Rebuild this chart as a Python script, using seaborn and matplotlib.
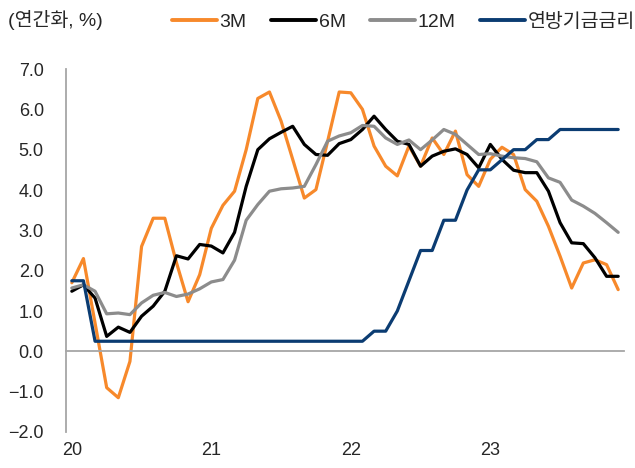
import numpy as np
import pandas as pd
import matplotlib
matplotlib.use("Agg")
import matplotlib.pyplot as plt
import seaborn as sns

# Monthly, Jan 2020 .. Dec 2023
months = pd.period_range("2020-01", "2023-12", freq="M").astype(str).tolist()

m3 = [1.7, 2.3, 0.7, -0.9, -1.15, -0.25, 2.6, 3.3, 3.3, 2.2, 1.23, 1.9,
      3.05, 3.62, 3.97, 5.0, 6.27, 6.43, 5.71, 4.76, 3.8, 4.01, 5.2, 6.43,
      6.41, 6.0, 5.09, 4.59, 4.35, 5.09, 4.59, 5.29, 4.88, 5.46, 4.38, 4.09,
      4.76, 5.06, 4.88, 4.01, 3.72, 3.1, 2.36, 1.57, 2.19, 2.27, 2.15, 1.53]
m6 = [1.49, 1.65, 1.32, 0.37, 0.6, 0.47, 0.87, 1.12, 1.49, 2.37, 2.29, 2.65,
      2.61, 2.44, 2.95, 4.09, 5.0, 5.27, 5.43, 5.58, 5.13, 4.88, 4.86, 5.15,
      5.25, 5.5, 5.83, 5.5, 5.21, 5.13, 4.59, 4.84, 4.96, 5.02, 4.88, 4.55,
      5.13, 4.76, 4.49, 4.43, 4.43, 3.97, 3.19, 2.69, 2.67, 2.32, 1.86, 1.86]
m12 = [1.57, 1.65, 1.49, 0.93, 0.95, 0.91, 1.2, 1.39, 1.46, 1.36, 1.42, 1.55,
       1.72, 1.78, 2.26, 3.25, 3.64, 3.97, 4.03, 4.05, 4.09, 4.63, 5.21, 5.34,
       5.42, 5.6, 5.58, 5.29, 5.13, 5.24, 5.0, 5.24, 5.5, 5.38, 5.13, 4.88,
       4.9, 4.84, 4.8, 4.78, 4.7, 4.3, 4.19, 3.75, 3.6, 3.42, 3.19, 2.95]
fed = [1.75, 1.75] + [0.25] * 24 + [0.5, 0.5, 1.0, 1.75, 2.5, 2.5, 3.25, 3.25,
       4.0, 4.5, 4.5, 4.75, 5.0, 5.0, 5.25, 5.25, 5.5, 5.5, 5.5, 5.5, 5.5, 5.5]

series_names = ["3M", "6M", "12M", "연방기금금리"]
series_colors = ["#F7892B", "#000000", "#8C8C8C", "#0B3C72"]
year_labels = ["20", "21", "22", "23"]
y_ticks = [-2.0, -1.0, 0.0, 1.0, 2.0, 3.0, 4.0, 5.0, 6.0, 7.0]

pos = np.arange(len(months)) + 0.5
frames = []
for name, vals in zip(series_names, [m3, m6, m12, fed]):
    frames.append(pd.DataFrame({"x": pos, "value": vals, "series": name}))
df = pd.concat(frames, ignore_index=True)

sns.set_style("white")
fam = ["Liberation Sans", "Noto Sans CJK KR", "DejaVu Sans"]
plt.rcParams["font.family"] = fam
plt.rcParams["axes.unicode_minus"] = True
fs = 13

fig = plt.figure(figsize=(6.35, 4.68), dpi=100)
ax = fig.add_axes([66 / 635, 1 - 432 / 468, (624 - 66) / 635, (432 - 69) / 468])

sns.lineplot(data=df, x="x", y="value", hue="series", hue_order=series_names,
             palette=dict(zip(series_names, series_colors)), linewidth=2.3,
             ax=ax, legend=False)

axis_col = "#A6A6A6"
ax.set_xlim(0, 48)
ax.set_ylim(-2.0, 7.0)
ax.set_yticks(y_ticks)
ax.set_yticklabels([f"{v:.1f}".replace("-", "\u2212") for v in y_ticks], fontsize=fs)
for s in ["top", "right"]:
    ax.spines[s].set_visible(False)
ax.spines["left"].set_color(axis_col)
ax.spines["left"].set_linewidth(1.3)
ax.spines["bottom"].set_position(("data", 0))
ax.spines["bottom"].set_color(axis_col)
ax.spines["bottom"].set_linewidth(1.3)

ax.set_xticks([0, 12, 24, 36, 48])
ax.set_xticklabels([])
ax.set_xticks([0.5, 12.5, 24.5, 36.5], minor=True)
ax.set_xticklabels(year_labels, minor=True, fontsize=fs)
ax.tick_params(axis="x", which="major", direction="in", length=5, width=1.3, color=axis_col)
ax.tick_params(axis="x", which="minor", length=0, pad=65)
ax.tick_params(axis="y", direction="in", length=5, width=1.3, color=axis_col, pad=16)
ax.set_xlabel("")
ax.set_ylabel("")
ax.grid(False)

handles = [plt.Line2D([], [], color=c, lw=2.8) for c in series_colors]
fig.legend(handles, series_names, loc="center right", bbox_to_anchor=(1.012, 1 - 22 / 468),
           ncol=4, frameon=False, handlelength=2.3, handletextpad=0.15,
           columnspacing=1.25, borderaxespad=0.0,
           prop={"family": fam, "size": 14})

fig.text(8 / 635, 1 - 20 / 468, "(연간화, %)", fontsize=14, va="center", ha="left",
         family=fam)

fig.savefig("out.png", dpi=100)
